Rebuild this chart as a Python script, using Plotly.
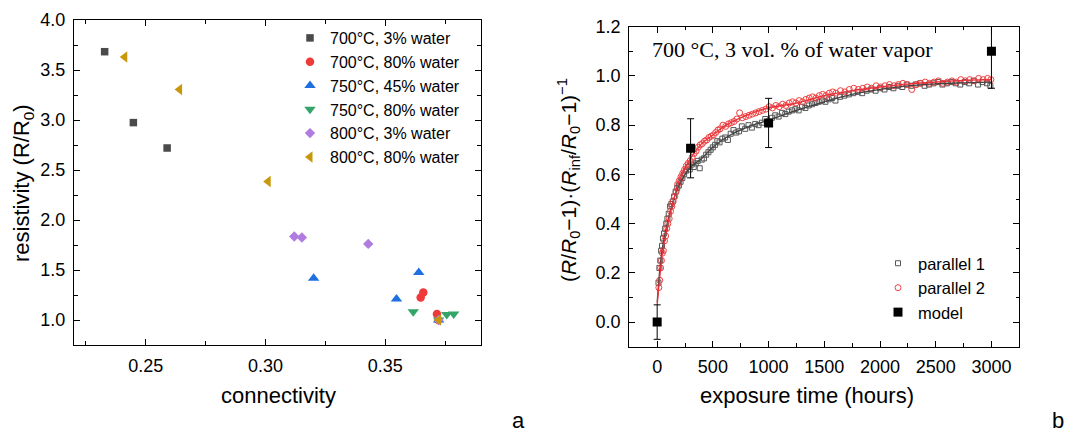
import plotly.graph_objects as go

# ---------------- Panel a data ----------------
sq_x = [0.2328, 0.2448, 0.2589]
sq_y = [3.683, 2.974, 2.720]
circ_x = [0.3659, 0.3648, 0.3716, 0.3722]
circ_y = [1.274, 1.224, 1.060, 1.000]
tri_up_x = [0.3201, 0.3640, 0.3547, 0.3723]
tri_up_y = [1.417, 1.474, 1.210, 1.000]
tri_dn_x = [0.3617, 0.3757, 0.3786, 0.3723]
tri_dn_y = [1.083, 1.056, 1.060, 1.000]
dia_x = [0.3120, 0.3152, 0.3429, 0.3723]
dia_y = [1.835, 1.825, 1.761, 1.000]
tri_l_x = [0.2412, 0.2641, 0.3011, 0.3723]
tri_l_y = [3.629, 3.305, 2.386, 1.000]
series_a_names = ["700°C, 3% water", "700°C, 80% water", "750°C, 45% water",
                  "750°C, 80% water", "800°C, 3% water", "800°C, 80% water"]

# ---------------- Panel b data ----------------
t1 = [12, 20, 28, 36, 44, 52, 62, 72, 82, 92, 104, 116, 128, 140, 152, 166, 180, 195, 210, 226,
      242, 258, 275, 292, 310, 328, 346, 364, 382, 400, 420, 440, 460, 480, 500, 520, 540, 560,
      585, 610, 635, 660, 685, 710, 735, 760, 790, 820, 850, 880, 910, 940, 970, 1000, 1030, 1060,
      1090, 1120, 1150, 1180, 1210, 1240, 1270, 1300, 1330, 1360, 1390, 1420, 1450, 1480, 1510,
      1540, 1570, 1600, 1640, 1680, 1720, 1760, 1800, 1840, 1880, 1920, 1960, 2000, 2040, 2080,
      2120, 2160, 2200, 2240, 2280, 2320, 2360, 2400, 2440, 2480, 2520, 2560, 2600, 2640, 2680,
      2720, 2760, 2800, 2840, 2880, 2920, 2960, 2990]
p1 = [0.16, 0.22, 0.25, 0.29, 0.31, 0.34, 0.36, 0.38, 0.40, 0.42, 0.44, 0.47, 0.48, 0.49, 0.51,
      0.53, 0.545, 0.555, 0.57, 0.585, 0.60, 0.615, 0.63, 0.62, 0.64, 0.63, 0.645, 0.655, 0.625,
      0.66, 0.665, 0.68, 0.69, 0.70, 0.71, 0.72, 0.735, 0.73, 0.745, 0.75, 0.74, 0.765, 0.78,
      0.77, 0.775, 0.795, 0.785, 0.80, 0.79, 0.805, 0.80, 0.81, 0.825, 0.815, 0.83, 0.84, 0.835,
      0.85, 0.845, 0.855, 0.86, 0.865, 0.86, 0.875, 0.87, 0.88, 0.885, 0.89, 0.895, 0.90, 0.895,
      0.905, 0.91, 0.90, 0.915, 0.92, 0.925, 0.93, 0.935, 0.93, 0.94, 0.945, 0.94, 0.95, 0.945,
      0.955, 0.95, 0.96, 0.955, 0.965, 0.96, 0.965, 0.97, 0.96, 0.965, 0.97, 0.975, 0.965, 0.97,
      0.975, 0.97, 0.965, 0.975, 0.97, 0.98, 0.965, 0.975, 0.97, 0.96]
t2 = [15, 23, 31, 39, 47, 56, 66, 76, 86, 96, 108, 120, 132, 144, 157, 170, 184, 199, 214, 230,
      246, 262, 279, 296, 314, 332, 350, 368, 386, 405, 425, 445, 465, 485, 505, 525, 545, 565,
      590, 615, 640, 665, 690, 715, 740, 765, 795, 825, 855, 885, 915, 945, 975, 1005, 1035, 1065,
      1095, 1125, 1155, 1185, 1215, 1245, 1275, 1305, 1335, 1365, 1395, 1425, 1455, 1485, 1515,
      1545, 1575, 1605, 1645, 1685, 1725, 1765, 1805, 1845, 1885, 1925, 1965, 2005, 2045, 2085,
      2125, 2165, 2205, 2245, 2285, 2325, 2365, 2405, 2445, 2485, 2525, 2565, 2605, 2645, 2685,
      2725, 2765, 2805, 2845, 2885, 2925, 2965, 2995]
p2 = [0.14, 0.17, 0.22, 0.25, 0.28, 0.29, 0.33, 0.35, 0.38, 0.40, 0.42, 0.45, 0.47, 0.49, 0.51,
      0.53, 0.56, 0.575, 0.59, 0.605, 0.62, 0.635, 0.645, 0.655, 0.67, 0.685, 0.695, 0.71, 0.72,
      0.725, 0.735, 0.74, 0.75, 0.755, 0.76, 0.77, 0.78, 0.785, 0.80, 0.795, 0.805, 0.81, 0.815,
      0.825, 0.85, 0.83, 0.835, 0.84, 0.845, 0.85, 0.855, 0.86, 0.865, 0.875, 0.87, 0.88, 0.875,
      0.885, 0.88, 0.89, 0.895, 0.89, 0.90, 0.895, 0.905, 0.91, 0.915, 0.91, 0.92, 0.925, 0.92,
      0.93, 0.935, 0.93, 0.94, 0.935, 0.945, 0.95, 0.945, 0.95, 0.955, 0.95, 0.96, 0.955, 0.96,
      0.965, 0.96, 0.965, 0.97, 0.965, 0.945, 0.965, 0.97, 0.975, 0.97, 0.975, 0.98, 0.97, 0.975,
      0.98, 0.975, 0.985, 0.98, 0.985, 0.98, 0.99, 0.985, 0.99, 0.985]
fit_t = [0, 10, 25, 50, 75, 100, 150, 200, 300, 400, 500, 600, 800, 1000, 1250, 1500, 1750,
         2000, 2250, 2500, 2750, 3000]
fit1 = [0.08, 0.14, 0.22, 0.31, 0.37, 0.42, 0.50, 0.56, 0.63, 0.665, 0.71, 0.745, 0.79, 0.82,
        0.86, 0.895, 0.925, 0.945, 0.96, 0.968, 0.972, 0.975]
fit2 = [0.07, 0.12, 0.19, 0.29, 0.35, 0.41, 0.50, 0.575, 0.665, 0.725, 0.76, 0.795, 0.84, 0.87,
        0.89, 0.92, 0.94, 0.955, 0.967, 0.975, 0.982, 0.985]
model_t = [0, 300, 1000, 3000]
model_v = [0.0, 0.706, 0.809, 1.10]
model_err = [0.07, 0.12, 0.10, 0.15]

W, H = 1067, 432
FONT = "Liberation Sans, Arial, sans-serif"

fig = go.Figure()

def add_a(x, y, name, symbol, color, size):
    fig.add_trace(go.Scatter(x=x, y=y, mode="markers", name=name, xaxis="x", yaxis="y",
                             legend="legend",
                             marker=dict(symbol=symbol, color=color, size=size, line=dict(width=0))))

add_a(sq_x, sq_y, series_a_names[0], "square", "#4a4a4a", 7.5)
add_a(circ_x, circ_y, series_a_names[1], "circle", "#f03a3a", 8.5)
add_a(tri_up_x, tri_up_y, series_a_names[2], "triangle-up", "#1f6fe0", 10)
add_a(tri_dn_x, tri_dn_y, series_a_names[3], "triangle-down", "#33a56a", 10)
add_a(dia_x, dia_y, series_a_names[4], "diamond", "#b07ce0", 8)
add_a(tri_l_x, tri_l_y, series_a_names[5], "triangle-left", "#c9970a", 10)

# panel b
fig.add_trace(go.Scatter(x=t1, y=p1, mode="markers", name="parallel 1", xaxis="x2", yaxis="y2",
                         legend="legend2",
                         marker=dict(symbol="square-open", color="#555555", size=5,
                                     line=dict(width=1))))
fig.add_trace(go.Scatter(x=t2, y=p2, mode="markers", name="parallel 2", xaxis="x2", yaxis="y2",
                         legend="legend2",
                         marker=dict(symbol="circle-open", color="#f04040", size=6,
                                     line=dict(width=1))))
fig.add_trace(go.Scatter(x=fit_t, y=fit1, mode="lines", showlegend=False, xaxis="x2", yaxis="y2",
                         line=dict(color="#444444", width=1.3, shape="spline")))
fig.add_trace(go.Scatter(x=fit_t, y=fit2, mode="lines", showlegend=False, xaxis="x2", yaxis="y2",
                         line=dict(color="#e8303a", width=1.3, shape="spline")))
fig.add_trace(go.Scatter(x=model_t, y=model_v, mode="markers", name="model", xaxis="x2", yaxis="y2",
                         legend="legend2",
                         marker=dict(symbol="square", color="black", size=9),
                         error_y=dict(type="data", array=model_err, visible=True,
                                      color="black", thickness=1, width=3.5)))

axis_common = dict(showline=True, linecolor="black", linewidth=1.3, mirror="ticks",
                   ticks="inside", ticklen=6, tickwidth=1.2, tickcolor="black",
                   showgrid=False, zeroline=False, automargin=False,
                   tickfont=dict(family=FONT, size=18, color="black"))

def px_x(p):
    return p / W

def px_y(p):
    return 1 - p / H

fig.update_layout(
    width=W, height=H, autosize=False,
    margin=dict(l=0, r=0, t=0, b=0, pad=0),
    paper_bgcolor="white", plot_bgcolor="white",
    font=dict(family=FONT, color="black"),
    xaxis=dict(domain=[px_x(74), px_x(481)], range=[0.22, 0.39], dtick=0.05, tick0=0,
               tickformat=".2f", anchor="y",
               minor=dict(ticks="inside", ticklen=3.5, dtick=0.025, tickcolor="black", tickwidth=1.2),
               ticklabelstandoff=4, **axis_common),
    yaxis=dict(domain=[px_y(345), px_y(20)], range=[0.75, 4.0], dtick=0.5, tick0=0,
               tickformat=".1f", anchor="x",
               minor=dict(ticks="inside", ticklen=3.5, dtick=0.25, tickcolor="black", tickwidth=1.2),
               ticklabelstandoff=4, **axis_common),
    xaxis2=dict(domain=[px_x(629.3), px_x(1019.3)], range=[-250, 3250], dtick=500, tick0=0,
                anchor="y2",
                minor=dict(ticks="inside", ticklen=3.5, dtick=250, tickcolor="black", tickwidth=1.2),
                ticklabelstandoff=4, **axis_common),
    yaxis2=dict(domain=[px_y(346.7), px_y(26.7)], range=[-0.1, 1.2], dtick=0.2, tick0=0,
                tickformat=".1f", anchor="x2",
                minor=dict(ticks="inside", ticklen=3.5, dtick=0.1, tickcolor="black", tickwidth=1.2),
                ticklabelstandoff=4, **axis_common),
    legend=dict(x=px_x(290), y=px_y(21), xanchor="left", yanchor="top",
                bgcolor="rgba(0,0,0,0)", borderwidth=0,
                font=dict(family=FONT, size=16, color="black"),
                itemsizing="trace", tracegroupgap=0),
    legend2=dict(x=px_x(878), y=px_y(246), xanchor="left", yanchor="top",
                 bgcolor="rgba(0,0,0,0)", borderwidth=0,
                 font=dict(family=FONT, size=16.5, color="black"),
                 itemsizing="trace"),
)

ann = [
    dict(text="connectivity", x=px_x(278), y=px_y(395), font=dict(size=22)),
    dict(text="resistivity (R/R<sub>0</sub>)", x=px_x(23), y=px_y(183), textangle=-90,
         font=dict(size=22)),
    dict(text="exposure time (hours)", x=px_x(807), y=px_y(395), font=dict(size=22)),
    dict(text="(<i>R</i>/<i>R</i><sub>0</sub>−1)·(<i>R</i><sub>inf</sub>/<i>R</i><sub>0</sub>−1)<sup>−1</sup>",
         x=px_x(568), y=px_y(180), textangle=-90, font=dict(size=21)),
    dict(text="700 °C, 3 vol. % of water vapor", x=px_x(792), y=px_y(50),
         font=dict(size=22, family="Liberation Serif, Times New Roman, serif")),
    dict(text="a", x=px_x(518), y=px_y(420), font=dict(size=22)),
    dict(text="b", x=px_x(1058), y=px_y(420), font=dict(size=22)),
]
for a in ann:
    f = dict(family=FONT, color="black")
    f.update(a.pop("font"))
    fig.add_annotation(xref="paper", yref="paper", xanchor="center", yanchor="middle",
                       showarrow=False, font=f, **a)

fig.write_html("out.html", config={"displayModeBar": False},
               post_script="document.body.style.margin='0';document.body.style.padding='0';"
                           "document.body.style.overflow='hidden';")
